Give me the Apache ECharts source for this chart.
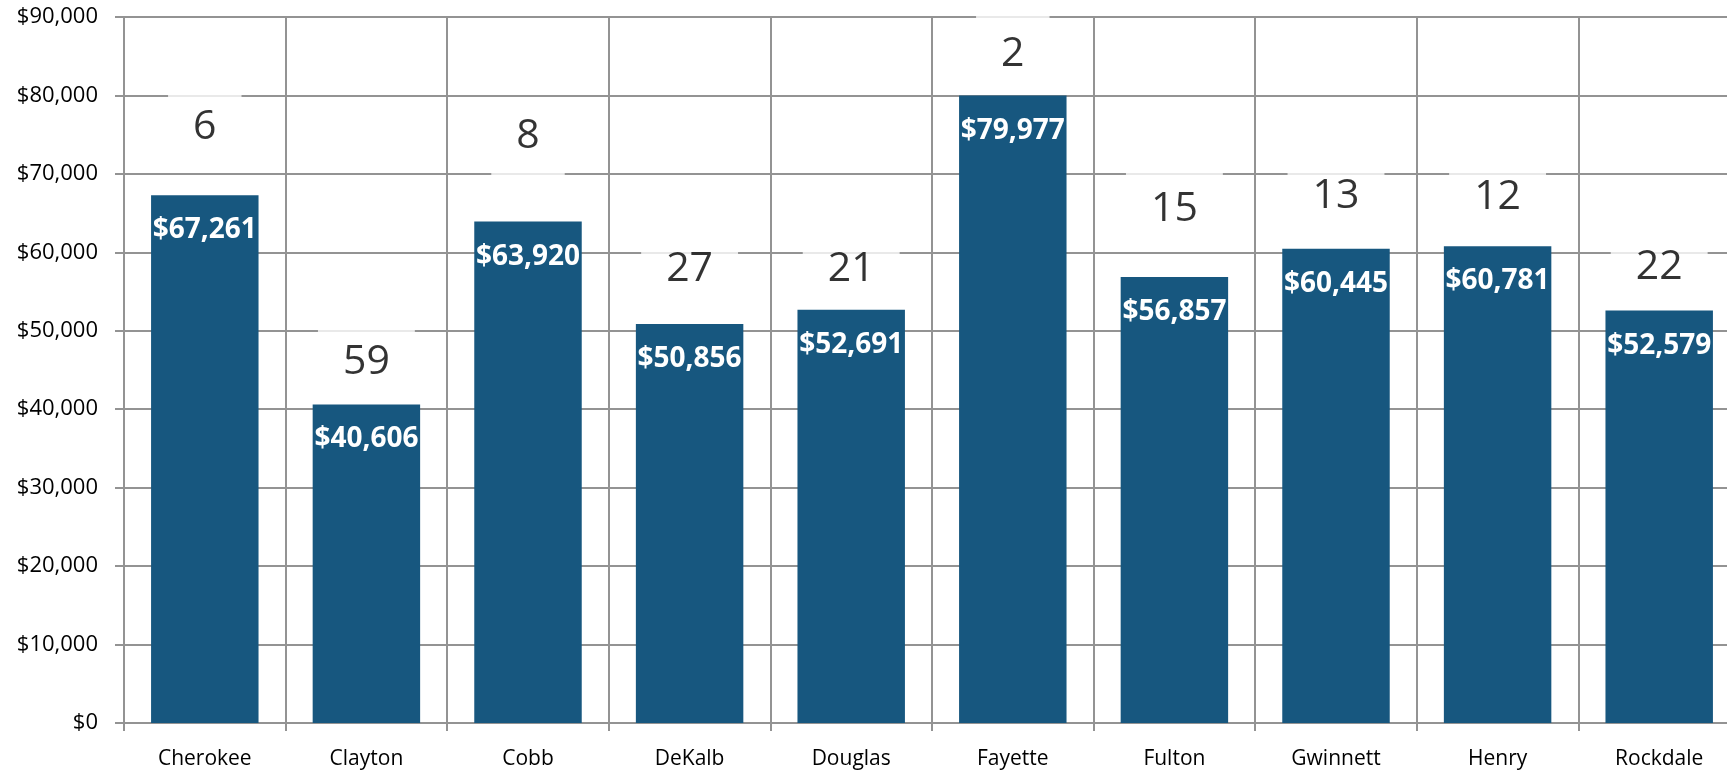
<!DOCTYPE html>
<html>
<head>
<meta charset="utf-8">
<script src="https://cdn.jsdelivr.net/npm/echarts@6/dist/echarts.min.js"></script>
<style>
  html, body { margin: 0; padding: 0; background: #fff; }
  #chart { width: 1727px; height: 772px; }
</style>
</head>
<body>
<div id="chart"></div>
<script>
// counties and median household income
const counties = ['Cherokee', 'Clayton', 'Cobb', 'DeKalb', 'Douglas', 'Fayette', 'Fulton', 'Gwinnett', 'Henry', 'Rockdale'];
const incomes = [67261, 40606, 63920, 50856, 52691, 79977, 56857, 60445, 60781, 52579];
// state rank shown above each bar
const ranks = [6, 59, 8, 27, 21, 2, 15, 13, 12, 22];
// value (on the $ axis) where each rank label sits
const rankLabelValue = [75800, 45800, 74700, 57700, 57700, 85100, 65400, 67000, 66900, 58000];
const yTicks = { min: 0, max: 90000, interval: 10000 };

const gridColor = '#939393';
const fmt = v => '$' + v.toLocaleString('en-US');

const chart = echarts.init(document.getElementById('chart'));

chart.setOption({
    animation: false,
    textStyle: { fontFamily: 'Open Sans' },
    // plot runs past the right edge, last category is cut off like in the original
    grid: { left: 124, top: 17, width: 1616, height: 706, containLabel: false, outerBoundsMode: 'none' },
    xAxis: {
        type: 'category',
        data: counties,
        boundaryGap: true,
        axisLine: { lineStyle: { color: gridColor, width: 2 } },
        axisTick: { show: true, length: 8, alignWithLabel: false, lineStyle: { color: gridColor, width: 2 } },
        splitLine: { show: true, lineStyle: { color: gridColor, width: 2 } },
        axisLabel: { color: '#000', fontSize: 21, margin: 26 }
    },
    yAxis: {
        type: 'value',
        min: yTicks.min,
        max: yTicks.max,
        interval: yTicks.interval,
        axisLine: { show: true, lineStyle: { color: gridColor, width: 2 } },
        axisTick: { show: true, length: 9, lineStyle: { color: gridColor, width: 2 } },
        splitLine: { show: true, lineStyle: { color: gridColor, width: 2 } },
        axisLabel: { color: '#000', fontSize: 22, margin: 26, formatter: fmt }
    },
    series: [
        {
            type: 'bar',
            data: incomes,
            barWidth: '66.5%',
            itemStyle: { color: '#17577f' },
            label: {
                show: true,
                position: 'insideTop',
                distance: 21,
                color: '#fff',
                fontWeight: 'bold',
                fontSize: 28,
                formatter: p => fmt(p.value)
            },
            z: 2
        },
        {
            // invisible points that only carry the white-boxed rank labels
            type: 'scatter',
            data: rankLabelValue,
            symbolSize: 1,
            itemStyle: { color: 'rgba(0,0,0,0)' },
            label: {
                show: true,
                position: 'inside',
                offset: [0, -1],
                color: '#000',
                fontSize: 41,
                lineHeight: 40,
                backgroundColor: '#fff',
                padding: [25, 25, 13, 25],
                formatter: p => String(ranks[p.dataIndex])
            },
            z: 3
        }
    ]
});
</script>
</body>
</html>
